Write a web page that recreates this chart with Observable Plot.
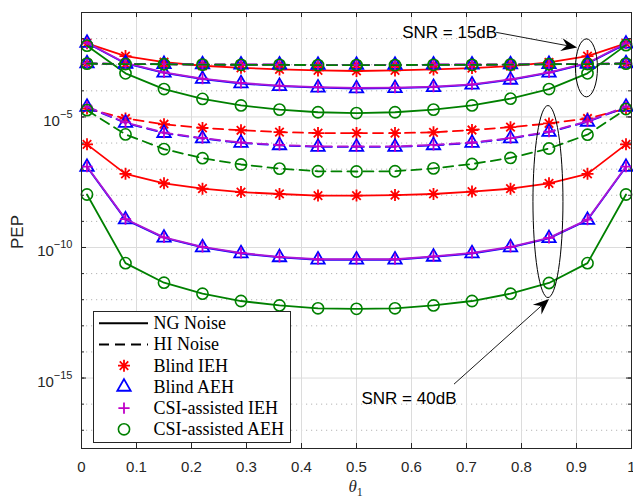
<!DOCTYPE html>
<html>
<head>
<meta charset="utf-8">
<script src="https://cdn.jsdelivr.net/npm/d3@7"></script>
<script src="https://cdn.jsdelivr.net/npm/@observablehq/plot@0.6"></script>
<style>
  html, body { margin: 0; padding: 0; background: #ffffff; }
  #chart svg { display: block; }
</style>
</head>
<body>
<div id="chart"></div>
<script>
// ---------- data ----------
const theta = [0.01, 0.08, 0.15, 0.22, 0.29, 0.36, 0.43, 0.50, 0.57, 0.64, 0.71, 0.78, 0.85, 0.92, 0.99];

// SNR = 15 dB, NG noise (solid)
const ngBlindIEH15 = [6.61e-3, 2.14e-3, 1.26e-3, 9.12e-4, 7.59e-4, 6.61e-4, 6.03e-4, 5.75e-4, 6.03e-4, 6.61e-4, 7.41e-4, 8.91e-4, 1.23e-3, 2.14e-3, 6.61e-3];
const ngBlindAEH15 = [6.76e-3, 1.12e-3, 4.90e-4, 2.82e-4, 1.91e-4, 1.51e-4, 1.32e-4, 1.23e-4, 1.26e-4, 1.38e-4, 1.70e-4, 2.63e-4, 4.90e-4, 1.12e-3, 6.31e-3];
const ngCsiIEH15   = [6.92e-3, 1.17e-3, 5.13e-4, 2.95e-4, 2.00e-4, 1.58e-4, 1.38e-4, 1.29e-4, 1.32e-4, 1.45e-4, 1.78e-4, 2.75e-4, 5.13e-4, 1.17e-3, 6.61e-3];
const ngCsiAEH15   = [5.37e-3, 4.68e-4, 1.17e-4, 4.90e-5, 2.75e-5, 1.91e-5, 1.51e-5, 1.41e-5, 1.51e-5, 1.91e-5, 2.75e-5, 5.01e-5, 1.17e-4, 4.68e-4, 5.62e-3];
// SNR = 15 dB, HI noise (dashed)
const hiBlindIEH15 = [1.12e-3, 1.07e-3, 1.05e-3, 1.02e-3, 1.00e-3, 1.00e-3, 9.77e-4, 9.77e-4, 9.77e-4, 1.00e-3, 1.00e-3, 1.02e-3, 1.05e-3, 1.07e-3, 1.12e-3];
const hiBlindAEH15 = [1.12e-3, 1.07e-3, 1.05e-3, 1.02e-3, 1.00e-3, 1.00e-3, 9.77e-4, 9.77e-4, 9.77e-4, 1.00e-3, 1.00e-3, 1.02e-3, 1.05e-3, 1.07e-3, 1.12e-3];
const hiCsiIEH15   = [1.12e-3, 1.07e-3, 1.05e-3, 1.02e-3, 1.00e-3, 1.00e-3, 9.77e-4, 9.77e-4, 9.77e-4, 1.00e-3, 1.00e-3, 1.02e-3, 1.05e-3, 1.07e-3, 1.12e-3];
const hiCsiAEH15   = [1.10e-3, 1.06e-3, 1.04e-3, 1.01e-3, 9.90e-4, 9.90e-4, 9.66e-4, 9.66e-4, 9.66e-4, 9.90e-4, 9.90e-4, 1.01e-3, 1.04e-3, 1.06e-3, 1.10e-3];
// SNR = 40 dB, NG noise (solid)
const ngBlindIEH40 = [8.91e-7, 6.61e-8, 2.88e-8, 1.78e-8, 1.32e-8, 1.12e-8, 9.77e-9, 9.77e-9, 1.02e-8, 1.12e-8, 1.38e-8, 1.78e-8, 2.88e-8, 6.61e-8, 8.91e-7];
const ngBlindAEH40 = [1.20e-7, 1.17e-9, 2.34e-10, 1.00e-10, 5.89e-11, 4.17e-11, 3.39e-11, 3.39e-11, 3.39e-11, 4.37e-11, 5.89e-11, 1.00e-10, 2.24e-10, 1.12e-9, 1.20e-7];
const ngCsiIEH40   = [1.26e-7, 1.23e-9, 2.45e-10, 1.05e-10, 6.17e-11, 4.37e-11, 3.55e-11, 3.55e-11, 3.55e-11, 4.57e-11, 6.17e-11, 1.05e-10, 2.34e-10, 1.17e-9, 1.26e-7];
const ngCsiAEH40   = [1.07e-8, 2.51e-11, 4.47e-12, 1.70e-12, 8.91e-13, 6.03e-13, 4.68e-13, 4.47e-13, 4.68e-13, 6.03e-13, 8.91e-13, 1.70e-12, 4.37e-12, 2.51e-11, 1.07e-8];
// SNR = 40 dB, HI noise (dashed)
const hiBlindIEH40 = [2.09e-5, 8.71e-6, 5.25e-6, 3.80e-6, 3.09e-6, 2.63e-6, 2.40e-6, 2.40e-6, 2.40e-6, 2.57e-6, 3.16e-6, 4.07e-6, 5.62e-6, 8.71e-6, 2.09e-5];
const hiBlindAEH40 = [2.40e-5, 5.89e-6, 2.40e-6, 1.48e-6, 1.00e-6, 8.13e-7, 7.08e-7, 7.08e-7, 7.08e-7, 8.13e-7, 1.00e-6, 1.48e-6, 2.63e-6, 6.46e-6, 2.40e-5];
const hiCsiIEH40   = [2.51e-5, 6.17e-6, 2.51e-6, 1.55e-6, 1.05e-6, 8.51e-7, 7.41e-7, 7.41e-7, 7.41e-7, 8.51e-7, 1.05e-6, 1.55e-6, 2.75e-6, 6.76e-6, 2.51e-5];
const hiCsiAEH40   = [1.82e-5, 2.14e-6, 5.89e-7, 2.63e-7, 1.51e-7, 1.05e-7, 8.32e-8, 8.13e-8, 8.32e-8, 1.07e-7, 1.58e-7, 2.69e-7, 6.17e-7, 2.09e-6, 2.00e-5];

// tick values
const xTicks = [0, 0.1, 0.2, 0.3, 0.4, 0.5, 0.6, 0.7, 0.8, 0.9, 1];
const yMajorTicks = [1e-15, 1e-10, 1e-5];
const yMinorTicks = [1e-17, 1e-16, 1e-15, 1e-14, 1e-13, 1e-12, 1e-11, 1e-10, 1e-9, 1e-8, 1e-7, 1e-6, 1e-5, 1e-4, 1e-3, 1e-2];
const yDottedGrid = [1e-17, 1e-16, 1e-14, 1e-13, 1e-12, 1e-11, 1e-9, 1e-8, 1e-7, 1e-6, 1e-4, 1e-3, 1e-2];

// legend entries and annotations
const legendLabels = ["NG Noise", "HI Noise", "Blind IEH", "Blind AEH", "CSI-assisted IEH", "CSI-assisted AEH"];
const annotations = [
  {text: "SNR = 15dB", tx: 0.584, ty: 10 ** -1.78, ax: 0.902, ay: 10 ** -2.36, ex: 0.919, ey: 10 ** -3.14, rx: 11, ry: 29},
  {text: "SNR = 40dB", tx: 0.510, ty: 10 ** -15.77, ax: 0.851, ay: 10 ** -11.99, ex: 0.849, ey: 10 ** -8.26, rx: 15, ry: 96}
];

// series table (order = drawing order)
const seriesList = [
  {noise: "NG", scheme: "Blind IEH", values: ngBlindIEH15},
  {noise: "NG", scheme: "Blind AEH", values: ngBlindAEH15},
  {noise: "NG", scheme: "CSI-assisted IEH", values: ngCsiIEH15},
  {noise: "NG", scheme: "CSI-assisted AEH", values: ngCsiAEH15},
  {noise: "NG", scheme: "Blind IEH", values: ngBlindIEH40},
  {noise: "NG", scheme: "Blind AEH", values: ngBlindAEH40},
  {noise: "NG", scheme: "CSI-assisted IEH", values: ngCsiIEH40},
  {noise: "NG", scheme: "CSI-assisted AEH", values: ngCsiAEH40},
  {noise: "HI", scheme: "Blind IEH", values: hiBlindIEH15},
  {noise: "HI", scheme: "Blind AEH", values: hiBlindAEH15},
  {noise: "HI", scheme: "CSI-assisted IEH", values: hiCsiIEH15},
  {noise: "HI", scheme: "CSI-assisted AEH", values: hiCsiAEH15},
  {noise: "HI", scheme: "Blind IEH", values: hiBlindIEH40},
  {noise: "HI", scheme: "Blind AEH", values: hiBlindAEH40},
  {noise: "HI", scheme: "CSI-assisted IEH", values: hiCsiIEH40},
  {noise: "HI", scheme: "CSI-assisted AEH", values: hiCsiAEH40}
];

// ---------- styles ----------
// MATLAB-like 8-arm asterisk marker
const asterisk8 = {
  draw(ctx, size) {
    const r = Math.sqrt(size / Math.PI);
    for (let k = 0; k < 4; k++) {
      const a = k * Math.PI / 4, c = Math.cos(a) * r, s = Math.sin(a) * r;
      ctx.moveTo(c, s); ctx.lineTo(-c, -s);
    }
  }
};
const schemeStyle = {
  "Blind IEH":        {line: "#ff0000", marker: "#ff0000", symbol: asterisk8, r: 6,   sw: 1.8, d3sym: asterisk8},
  "Blind AEH":        {line: "#0000ff", marker: "#0000ff", symbol: "triangle2", r: 6.4, sw: 1.8, d3sym: d3.symbolTriangle2},
  "CSI-assisted IEH": {line: "#ae18d4", marker: "#c000c8", symbol: "plus", r: 3.7, sw: 1.8, d3sym: d3.symbolPlus},
  "CSI-assisted AEH": {line: "#008000", marker: "#008000", symbol: "circle", r: 5.6, sw: 1.6, d3sym: d3.symbolCircle}
};
const dash = "10,6";
const axisColor = "#262626";
const W = 633, H = 498, ML = 81, MR = 2, MT = 12, MB = 50;
const PW = W - ML - MR, PH = H - MT - MB;

const marks = [];
// grid
marks.push(Plot.ruleY(yDottedGrid, {y: d => d, stroke: "#b4b4b4", strokeWidth: 1, strokeDasharray: "1.2,3.8"}));
marks.push(Plot.ruleX(xTicks.slice(1, -1), {x: d => d, stroke: "#dcdcdc", strokeWidth: 1}));
marks.push(Plot.ruleY(yMajorTicks, {y: d => d, stroke: "#dcdcdc", strokeWidth: 1}));

// curves
for (const s of seriesList) {
  const st = schemeStyle[s.scheme];
  const rows = theta.map((t, i) => ({theta: t, pep: s.values[i]}));
  marks.push(Plot.line(rows, {x: "theta", y: "pep", stroke: st.line, strokeWidth: 1.8,
    strokeDasharray: s.noise === "HI" ? dash : undefined}));
  marks.push(Plot.dot(rows, {x: "theta", y: "pep", symbol: st.symbol, r: st.r, stroke: st.marker,
    strokeWidth: st.sw, fill: "none"}));
}

// box + inward ticks
marks.push(Plot.frame({stroke: axisColor, strokeWidth: 1}));
marks.push(Plot.ruleX(xTicks, {x: d => d, stroke: axisColor, insetTop: PH - 5}));
marks.push(Plot.ruleX(xTicks, {x: d => d, stroke: axisColor, insetBottom: PH - 5}));
marks.push(Plot.ruleY(yMinorTicks, {y: d => d, stroke: axisColor, insetRight: PW - 3}));
marks.push(Plot.ruleY(yMinorTicks, {y: d => d, stroke: axisColor, insetLeft: PW - 3}));
marks.push(Plot.ruleY(yMajorTicks, {y: d => d, stroke: axisColor, insetRight: PW - 5}));
marks.push(Plot.ruleY(yMajorTicks, {y: d => d, stroke: axisColor, insetLeft: PW - 5}));

// axes labels
marks.push(Plot.axisX(xTicks, {tickSize: 0, tickPadding: 12.5, tickFormat: d => String(d), label: null, fill: axisColor, fontSize: 15}));
marks.push(Plot.axisY(yMajorTicks, {tickSize: 0, tickPadding: 9, tickFormat: d => "10^" + Math.round(Math.log10(d)), label: null, fill: axisColor, fontSize: 15}));

const svg = Plot.plot({
  width: W, height: H,
  marginLeft: ML, marginRight: MR, marginTop: MT, marginBottom: MB,
  x: {domain: [0, 1]},
  y: {type: "log", domain: [2e-18, 1e-1]},
  style: {fontFamily: "'Liberation Sans', Arial, Helvetica, sans-serif", fontSize: "15px", color: axisColor, background: "#ffffff"},
  marks
});
document.getElementById("chart").appendChild(svg);

// ---------- post-processing ----------
const root = d3.select(svg);

// superscript y tick labels
root.selectAll("text").each(function () {
  const t = this.textContent;
  const m = /^10\^(-?\d+)$/.exec(t);
  if (!m) return;
  const el = d3.select(this);
  el.text(null);
  el.append("tspan").attr("dy", 4).text("10");
  el.append("tspan").attr("dy", -8).attr("font-size", 11).text(m[1].replace("-", "\u2212"));
});

// scales
const sxObj = svg.scale ? svg.scale("x") : null;
const syObj = svg.scale ? svg.scale("y") : null;
const sx = sxObj && sxObj.apply ? sxObj.apply : d3.scaleLinear([0, 1], [ML, W - MR]);
const sy = syObj && syObj.apply ? syObj.apply : d3.scaleLog([2e-18, 1e-1], [H - MB, MT]);

// axis titles
root.append("text")
  .attr("transform", `translate(23,${(MT + H - MB) / 2 + 2}) rotate(-90)`)
  .attr("text-anchor", "middle")
  .attr("font-family", "'Liberation Sans', Arial, sans-serif")
  .attr("font-size", 17).attr("fill", axisColor).text("PEP");
const xt = root.append("text")
  .attr("x", 348.5).attr("y", 491.5).attr("text-anchor", "start")
  .attr("font-family", "'Liberation Serif', 'Times New Roman', serif")
  .attr("font-size", 17).attr("fill", axisColor);
xt.append("tspan").attr("font-style", "italic").text("θ");
xt.append("tspan").attr("dy", 4.5).attr("font-size", 12).text("1");

// annotations
const ann = root.append("g");
for (const a of annotations) {
  const cx = sx(a.ex), cy = sy(a.ey);
  ann.append("ellipse").attr("cx", cx).attr("cy", cy).attr("rx", a.rx).attr("ry", a.ry)
    .attr("fill", "none").attr("stroke", "#000").attr("stroke-width", 1);
  const tx = sx(a.tx), ty = sy(a.ty);
  ann.append("text").attr("x", tx).attr("y", ty).attr("dy", "0.35em").attr("text-anchor", "start")
    .attr("font-family", "'Liberation Sans', Arial, sans-serif").attr("font-size", 17)
    .attr("fill", "#000").text(a.text);
}
function arrow(x0, y0, x1, y1) {
  const ang = Math.atan2(y1 - y0, x1 - x0);
  const L = 16, hw = 6.5, notch = 0.65;
  const c = Math.cos(ang), s = Math.sin(ang);
  const P = (px, py) => [x1 + px * c - py * s, y1 + px * s + py * c];
  const nb = P(-L * notch, 0);
  ann.append("line").attr("x1", x0).attr("y1", y0).attr("x2", nb[0]).attr("y2", nb[1])
    .attr("stroke", "#000").attr("stroke-width", 0.9);
  const pts = [P(0, 0), P(-L, -hw), nb, P(-L, hw)];
  ann.append("path").attr("d", "M" + pts.map(p => p.join(",")).join("L") + "Z").attr("fill", "#000");
}
{
  const a = annotations[0];
  arrow(sx(a.tx) + 94, sy(a.ty), sx(a.ax), sy(a.ay));
  const b = annotations[1];
  arrow(sx(b.tx) + 92.5, sy(b.ty) - 13.5, sx(b.ax), sy(b.ay));
}

// legend
const lg = root.append("g");
const lx = 93.5, ly = 311.5, lw = 197, lh = 131;
lg.append("rect").attr("x", lx).attr("y", ly).attr("width", lw).attr("height", lh)
  .attr("fill", "#fff").attr("stroke", axisColor).attr("stroke-width", 1);
const rowY = i => 323.3 + i * 21.2;
legendLabels.forEach((lab, i) => {
  const y = rowY(i);
  if (i === 0) {
    lg.append("line").attr("x1", 99).attr("x2", 148).attr("y1", y).attr("y2", y)
      .attr("stroke", "#000").attr("stroke-width", 2);
  } else if (i === 1) {
    lg.append("line").attr("x1", 99).attr("x2", 148).attr("y1", y).attr("y2", y)
      .attr("stroke", "#000").attr("stroke-width", 2).attr("stroke-dasharray", dash);
  } else {
    const st = schemeStyle[lab];
    lg.append("path").attr("transform", `translate(124,${y})`)
      .attr("d", d3.symbol(st.d3sym, Math.PI * st.r * st.r)())
      .attr("fill", "none").attr("stroke", st.marker).attr("stroke-width", st.sw);
  }
  lg.append("text").attr("x", 153.5).attr("y", y).attr("dy", "0.33em").attr("text-anchor", "start")
    .attr("font-family", "'Liberation Serif', 'Times New Roman', serif")
    .attr("font-size", 18).attr("fill", "#000").text(lab);
});
</script>
</body>
</html>
